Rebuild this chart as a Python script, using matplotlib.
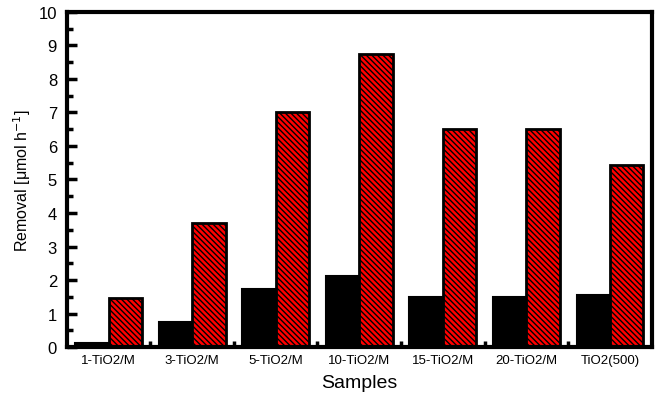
import matplotlib
matplotlib.use('Agg')
import matplotlib.pyplot as plt
import numpy as np
from matplotlib.ticker import MultipleLocator, FixedLocator

samples = ['1-TiO2/M', '3-TiO2/M', '5-TiO2/M', '10-TiO2/M', '15-TiO2/M', '20-TiO2/M', 'TiO2(500)']
removal_dark = [0.12, 0.75, 1.74, 2.12, 1.5, 1.5, 1.55]
removal_light = [1.46, 3.7, 7.02, 8.75, 6.52, 6.52, 5.42]

plt.rcParams['font.family'] = ['Liberation Sans', 'DejaVu Sans']
plt.rcParams['hatch.linewidth'] = 1.0
plt.rcParams['hatch.color'] = 'black'

fig = plt.figure(figsize=(6.61, 4.02), dpi=100)
ax = fig.add_axes([0.101, 0.134, 0.885, 0.834])

x = np.arange(len(samples))
w = 0.4
ax.bar(x - w / 2, removal_dark, w, color='black', edgecolor='black', linewidth=1.5)
ax.bar(x + w / 2, removal_light, w, color='#ff0000', edgecolor='black', linewidth=2,
       hatch='\\\\\\\\\\\\')

ax.set_xlim(-0.5, len(samples) - 0.5)
ax.set_ylim(0, 10)
ax.set_xticks(x)
ax.set_xticklabels(samples)
ax.xaxis.set_minor_locator(FixedLocator(np.arange(0.5, len(samples) - 1, 1)))
ax.yaxis.set_major_locator(MultipleLocator(1))
ax.yaxis.set_minor_locator(MultipleLocator(0.5))
ax.tick_params(axis='both', which='major', direction='in', length=7, width=2.5, labelsize=12, pad=7)
ax.tick_params(axis='both', which='minor', direction='in', length=4, width=2.5)
ax.tick_params(axis='x', which='major', length=0, labelsize=9.5, pad=5)
ax.tick_params(top=False, right=False)
for s in ax.spines.values():
    s.set_linewidth(3)

ax.set_xlabel('Samples', fontsize=14, labelpad=6)
ax.set_ylabel('Removal [μmol h$^{-1}$]', fontsize=11.5, labelpad=4)

plt.savefig('out.png', dpi=100)
